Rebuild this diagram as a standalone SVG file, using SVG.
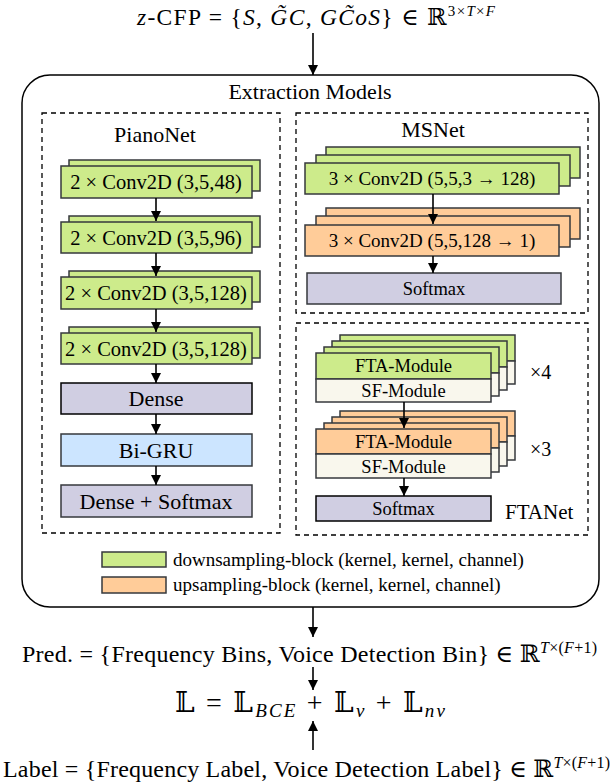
<svg xmlns="http://www.w3.org/2000/svg" width="613" height="784" viewBox="0 0 613 784">
<defs>
<marker id="ah" viewBox="0 0 10 10" refX="10" refY="5" markerWidth="10" markerHeight="10" markerUnits="userSpaceOnUse" orient="auto">
<path d="M0,0 L10,5 L0,10 z" fill="#000"/>
</marker>
<style>
text{font-family:"Liberation Serif","DejaVu Serif","DejaVu Sans",serif;fill:#000}
.m{font-size:24px}
.it{font-style:italic}
.dash{fill:none;stroke:#000;stroke-width:1.3;stroke-dasharray:5,4}
.g{fill:#cdeb8b;stroke:#36393d;stroke-width:1.5}
.o{fill:#ffcc99;stroke:#36393d;stroke-width:1.5}
.p{fill:#d0cee2;stroke:#36393d;stroke-width:1.5}
.b{fill:#cce5ff;stroke:#36393d;stroke-width:1.5}
.w{fill:#f9f7ed;stroke:#36393d;stroke-width:1.5}
.ln{stroke:#000;stroke-width:1.6;fill:none;marker-end:url(#ah)}
.t20{font-size:20.5px;text-anchor:middle}
.t22{font-size:22px;text-anchor:middle}
.t19{font-size:19px;text-anchor:middle}
.t18{font-size:18.5px;text-anchor:middle}
</style>
</defs>

<g id="input">
<text x="137" y="25" font-size="23.5" textLength="358" lengthAdjust="spacing"><tspan class="it">z</tspan>-CFP = {<tspan class="it">S</tspan>, <tspan class="it">G̃C</tspan>, <tspan class="it">GC̃oS</tspan>} ∈ ℝ<tspan dy="-9" font-size="15">3×<tspan class="it">T</tspan>×<tspan class="it">F</tspan></tspan></text>
</g>

<g id="extraction-models">
<rect x="22" y="75" width="577" height="532" rx="28" ry="28" fill="none" stroke="#000" stroke-width="1.5"/>
<text class="t22" x="310" y="99">Extraction Models</text>
</g>

<g id="pianonet">
<rect class="dash" x="42" y="113" width="238" height="420"/>
<text class="t22" x="155" y="142">PianoNet</text>
<g id="pn-conv1">
<rect class="g" x="69" y="160" width="191" height="31"/>
<rect class="g" x="61" y="166" width="191" height="32"/>
<text class="t20" x="156" y="189">2 × Conv2D (3,5,48)</text>
</g>
<g id="pn-conv2">
<rect class="g" x="69" y="216" width="191" height="31"/>
<rect class="g" x="61" y="222" width="191" height="31"/>
<text class="t20" x="156" y="245">2 × Conv2D (3,5,96)</text>
</g>
<g id="pn-conv3">
<rect class="g" x="69" y="271" width="191" height="31"/>
<rect class="g" x="61" y="277" width="191" height="32"/>
<text class="t20" x="156" y="300">2 × Conv2D (3,5,128)</text>
</g>
<g id="pn-conv4">
<rect class="g" x="69" y="327" width="191" height="31"/>
<rect class="g" x="61" y="333" width="191" height="31"/>
<text class="t20" x="156" y="356">2 × Conv2D (3,5,128)</text>
</g>
<g id="pn-dense">
<rect class="p" x="61" y="383" width="191" height="31" style="stroke:#000"/>
<text class="t22" x="156" y="406">Dense</text>
</g>
<g id="pn-bigru">
<rect class="b" x="61" y="434" width="191" height="32"/>
<text class="t22" x="156" y="458">Bi-GRU</text>
</g>
<g id="pn-dense-softmax">
<rect class="p" x="61" y="485" width="191" height="32"/>
<text class="t22" x="156" y="509">Dense + Softmax</text>
</g>
</g>

<g id="msnet">
<rect class="dash" x="296" y="113" width="292" height="200"/>
<text class="t22" x="433" y="137">MSNet</text>
<g id="ms-down">
<rect class="g" x="326" y="147" width="254" height="31"/>
<rect class="g" x="316" y="155" width="254" height="31"/>
<rect class="g" x="305" y="163" width="254" height="31"/>
<text class="t19" x="432" y="185">3 × Conv2D (5,5,3 → 128)</text>
</g>
<g id="ms-up">
<rect class="o" x="326" y="208" width="254" height="31"/>
<rect class="o" x="316" y="216" width="254" height="31"/>
<rect class="o" x="305" y="225" width="254" height="31"/>
<text class="t19" x="432" y="247">3 × Conv2D (5,5,128 → 1)</text>
</g>
<g id="ms-softmax">
<rect class="p" x="307" y="273" width="254" height="31"/>
<text class="t18" x="434" y="295">Softmax</text>
</g>
</g>

<g id="ftanet">
<rect class="dash" x="296" y="323" width="292" height="212"/>
<text x="505" y="519" font-size="21">FTANet</text>
<g id="fta-down">
<rect class="g" x="340" y="335" width="175" height="26"/><rect class="w" x="340" y="361" width="175" height="23"/>
<rect class="g" x="332" y="341" width="175" height="26"/><rect class="w" x="332" y="367" width="175" height="23"/>
<rect class="g" x="324" y="347" width="175" height="26"/><rect class="w" x="324" y="373" width="175" height="23"/>
<rect class="g" x="316" y="353" width="175" height="26"/><rect class="w" x="316" y="379" width="175" height="23"/>
<text class="t18" x="403.5" y="372">FTA-Module</text>
<text class="t18" x="403.5" y="397">SF-Module</text>
<text x="530" y="379" font-size="20">×4</text>
</g>
<g id="fta-up">
<rect class="o" x="340" y="411" width="175" height="25"/><rect class="w" x="340" y="436" width="175" height="24"/>
<rect class="o" x="332" y="417" width="175" height="25"/><rect class="w" x="332" y="442" width="175" height="24"/>
<rect class="o" x="324" y="423" width="175" height="25"/><rect class="w" x="324" y="448" width="175" height="24"/>
<rect class="o" x="316" y="429" width="175" height="25"/><rect class="w" x="316" y="454" width="175" height="24"/>
<text class="t18" x="403.5" y="448">FTA-Module</text>
<text class="t18" x="403.5" y="473">SF-Module</text>
<text x="530" y="456" font-size="20">×3</text>
</g>
<g id="fta-softmax">
<rect class="p" x="316" y="496" width="175" height="25" style="stroke:#000"/>
<text class="t18" x="403.5" y="515">Softmax</text>
</g>
</g>

<g id="legend">
<rect class="g" x="102" y="552" width="64" height="15"/>
<text x="173" y="566" font-size="19">downsampling-block (kernel, kernel, channel)</text>
<rect class="o" x="102" y="577" width="64" height="16"/>
<text x="173" y="591" font-size="19">upsampling-block (kernel, kernel, channel)</text>
</g>

<g id="pred">
<text class="m" x="22" y="662" textLength="575" lengthAdjust="spacing">Pred. = {Frequency Bins, Voice Detection Bin} ∈ ℝ<tspan dy="-9" font-size="16"><tspan class="it">T</tspan>×(<tspan class="it">F</tspan>+1)</tspan></text>
</g>
<g id="loss">
<text x="175" y="712" font-size="28" textLength="270" lengthAdjust="spacing">𝕃 = 𝕃<tspan class="it" dy="5" font-size="19">BCE</tspan><tspan dy="-5"> + 𝕃</tspan><tspan class="it" dy="5" font-size="19">v</tspan><tspan dy="-5"> + 𝕃</tspan><tspan class="it" dy="5" font-size="19">nv</tspan></text>
</g>
<g id="label">
<text class="m" x="3" y="777" textLength="607" lengthAdjust="spacing">Label = {Frequency Label, Voice Detection Label} ∈ ℝ<tspan dy="-9" font-size="16"><tspan class="it">T</tspan>×(<tspan class="it">F</tspan>+1)</tspan></text>
</g>

<g id="connectors">
<line class="ln" x1="313" y1="33" x2="313" y2="75"/>
<line class="ln" x1="156" y1="198" x2="156" y2="221"/>
<line class="ln" x1="156" y1="253" x2="156" y2="276"/>
<line class="ln" x1="156" y1="309" x2="156" y2="332"/>
<line class="ln" x1="156" y1="364" x2="156" y2="383"/>
<line class="ln" x1="156" y1="414" x2="156" y2="434"/>
<line class="ln" x1="156" y1="466" x2="156" y2="485"/>
<line class="ln" x1="433" y1="194" x2="433" y2="224"/>
<line class="ln" x1="433" y1="256" x2="433" y2="273"/>
<line class="ln" x1="404" y1="402" x2="404" y2="428"/>
<line class="ln" x1="404" y1="478" x2="404" y2="496"/>
<line class="ln" x1="313" y1="607" x2="313" y2="637"/>
<line class="ln" x1="313" y1="667" x2="313" y2="690"/>
<line class="ln" x1="313" y1="750" x2="313" y2="721"/>
</g>
</svg>
